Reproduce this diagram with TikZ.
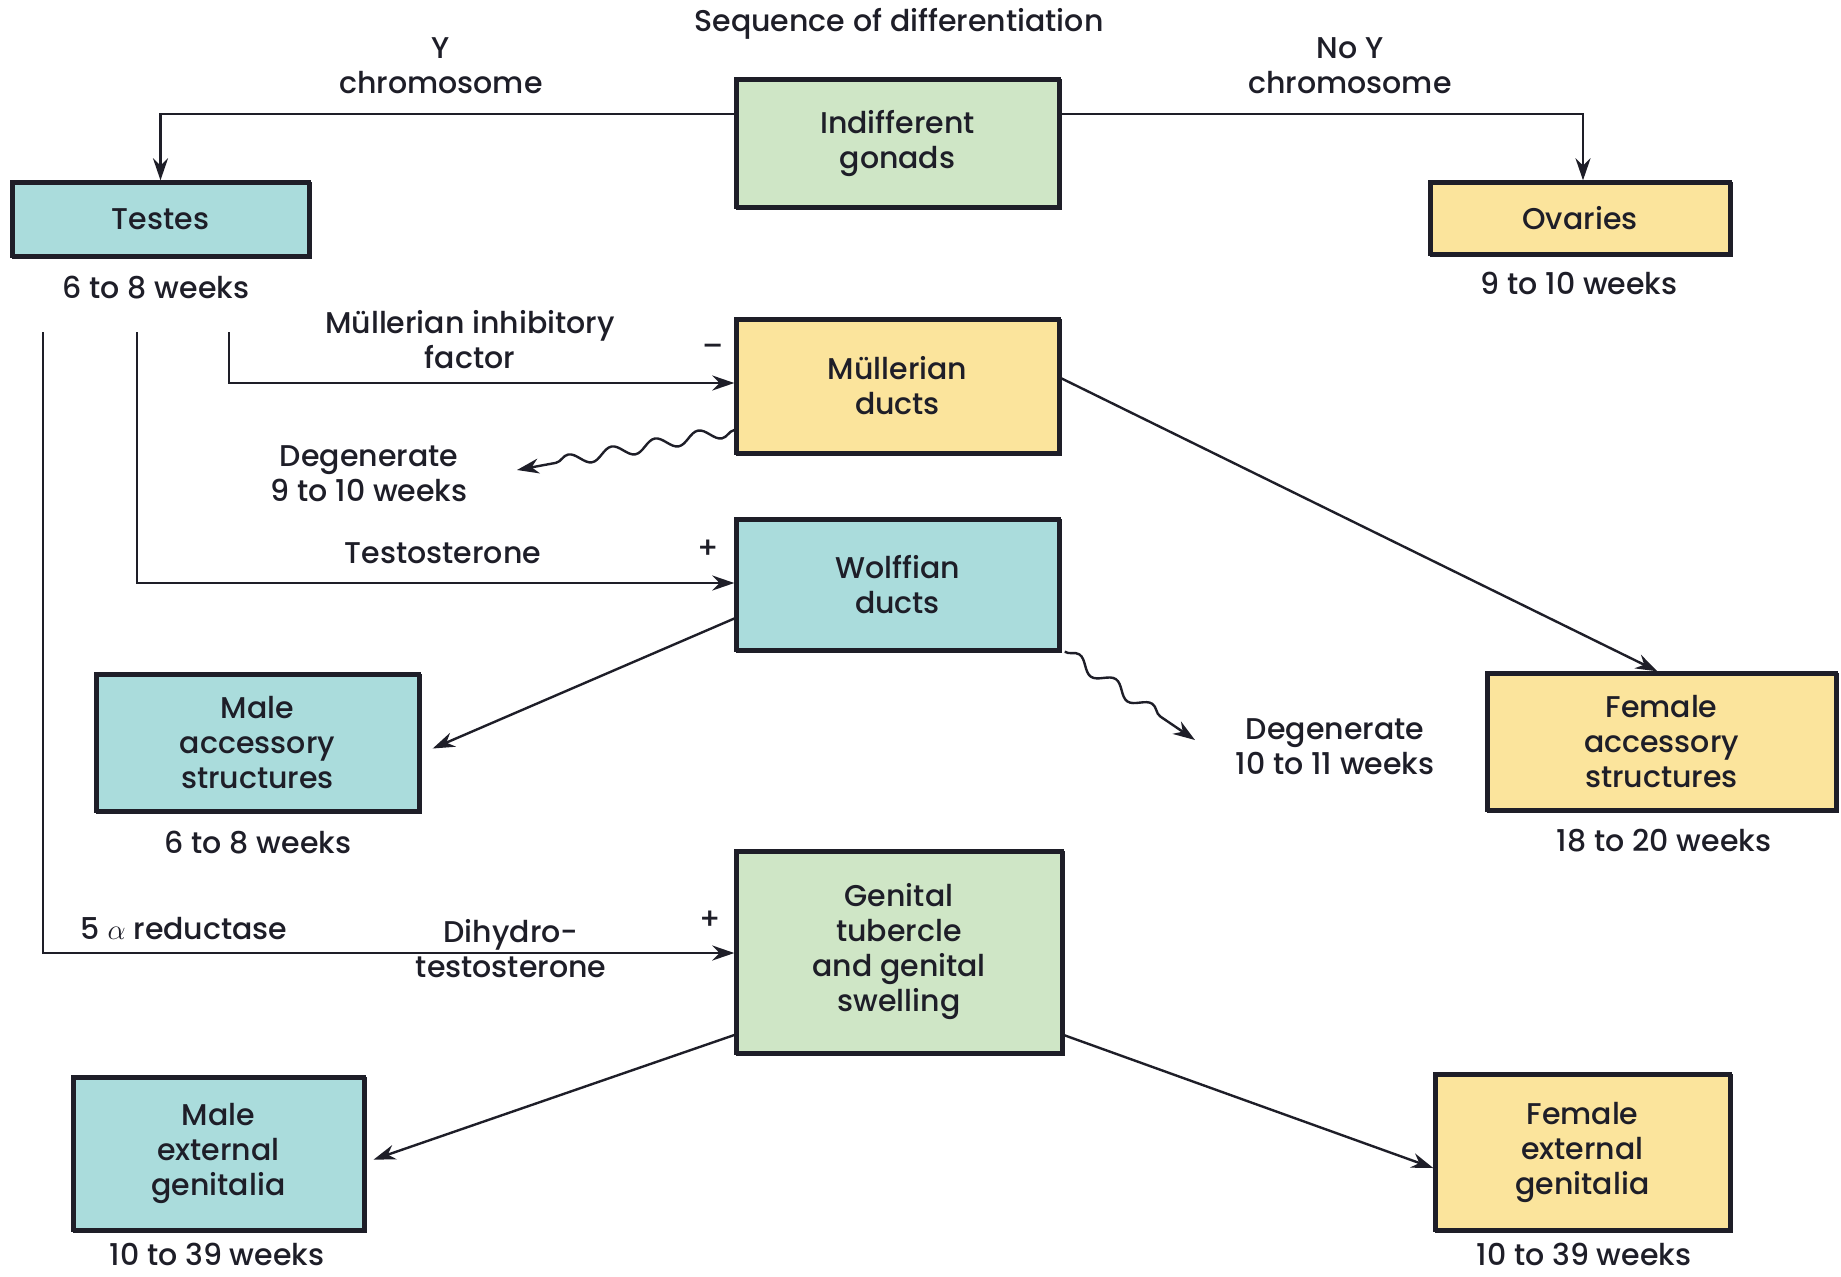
\documentclass[tikz,border=0pt]{standalone}
\usepackage{fontspec}
\setmainfont{Poppins}[UprightFont=* Medium]
\usetikzlibrary{arrows.meta,decorations.pathmorphing}
\definecolor{cteal}{HTML}{AADCDC}
\definecolor{cyel}{HTML}{FBE49C}
\definecolor{cgrn}{HTML}{CFE6C6}
\definecolor{cink}{HTML}{1E1E28}
\tikzset{
  bx/.style={draw=cink, line width=1.7pt, align=center, inner sep=0pt,
    font=\fontsize{15}{17.5}\selectfont, text=cink,
    postaction={draw=cink, line width=1.3pt, transform canvas={xshift=0.7pt,yshift=-0.7pt}}},
  lbl/.style={align=center, inner sep=0pt, font=\fontsize{15}{17.5}\selectfont, text=cink},
  conn/.style={draw=cink, line width=1.2pt},
  arr/.style={conn, -{Stealth[length=11pt,width=7.5pt]}},
  wav/.style={arr, decorate, decoration={snake, amplitude=3pt, segment length=22pt, post length=12pt}},
}
\begin{document}
\begin{tikzpicture}[x=0.5pt,y=-0.5pt]
\useasboundingbox[fill=white] (0,0) rectangle (1841,1276);
% boxes
\node[bx, fill=cgrn, minimum width=161.5pt, minimum height=64pt] (gon) at (897.5,143) {Indifferent\\gonads};
\node[bx, fill=cteal, minimum width=148.5pt, minimum height=37pt] (tes) at (160.5,219) {Testes};
\node[bx, fill=cyel, minimum width=150pt, minimum height=36pt] (ova) at (1580,218) {Ovaries};
\node[bx, fill=cyel, minimum width=161.5pt, minimum height=67pt] (mul) at (897.5,386) {Müllerian\\ducts};
\node[bx, fill=cteal, minimum width=161.5pt, minimum height=65.5pt] (wol) at (897.5,584.5) {Wolffian\\ducts};
\node[bx, fill=cteal, minimum width=161.5pt, minimum height=68.5pt] (macc) at (257.5,742.5) {Male\\accessory\\structures};
\node[bx, fill=cyel, minimum width=174.5pt, minimum height=68.5pt] (facc) at (1661.5,741.5) {Female\\accessory\\structures};
\node[bx, fill=cgrn, minimum width=163pt, minimum height=101pt] (gen) at (899,952) {Genital\\tubercle\\and genital\\swelling};
\node[bx, fill=cteal, minimum width=145.5pt, minimum height=76.5pt] (mext) at (218.5,1153.5) {Male\\external\\genitalia};
\node[bx, fill=cyel, minimum width=147.5pt, minimum height=78pt] (fext) at (1582.5,1152) {Female\\external\\genitalia};
% labels
\node[lbl] (title) at (899,24) {Sequence of differentiation};
\node[lbl] (ylab) at (441,66) {Y\\chromosome};
\node[lbl] (noylab) at (1350,66) {No Y\\chromosome};
\node[lbl] (tesw) at (156,288) {6 to 8 weeks};
\node[lbl] (ovaw) at (1579,283) {9 to 10 weeks};
\node[lbl] (mif) at (470,340) {Müllerian inhibitory\\factor};
\node[lbl] (minus) at (713,350) {\textendash};
\node[lbl] (deg1) at (369,474) {Degenerate\\9 to 10 weeks};
\node[lbl] (testo) at (443,553) {Testosterone};
\node[lbl] (plus1) at (708,549) {+};
\node[lbl] (maccw) at (258,843) {6 to 8 weeks};
\node[lbl] (deg2) at (1335,747) {Degenerate\\10 to 11 weeks};
\node[lbl] (faccw) at (1664,841) {18 to 20 weeks};
\node[lbl] (red) at (184,929) {5 $\alpha$ reductase};
\node[lbl] (dht) at (511,949) {Dihydro-\\testosterone};
\node[lbl] (plus2) at (710,920) {+};
\node[lbl] (mextw) at (217,1254) {10 to 39 weeks};
\node[lbl] (fextw) at (1584,1254) {10 to 39 weeks};
% free ends
\coordinate (s1) at (229,332);
\coordinate (s2) at (137,332);
\coordinate (s3) at (43,332);
\coordinate (d1) at (517,470);
\coordinate (d2) at (1195,740);
% connectors
\draw[arr] ([yshift=14.5pt]gon.west) -| (tes.north);
\draw[arr] ([yshift=14.5pt]gon.east) -| ([xshift=1.5pt]ova.north);
\draw[arr] (s1) |- ([yshift=1.5pt]mul.west);
\draw[arr] (s2) |- ([yshift=0.75pt]wol.west);
\draw[arr] (s3) |- ([yshift=-0.5pt]gen.west);
\draw[wav] ([yshift=-22pt]mul.west) -- (d1);
\draw[arr] ([yshift=-17pt]wol.west) -- ([xshift=6pt,yshift=-3pt]macc.east);
\draw[wav] ([xshift=2pt]wol.south east) -- (d2);
\draw[arr] ([yshift=4pt]mul.east) -- ([xshift=-2pt]facc.north);
\draw[arr] ([yshift=-41.5pt]gen.west) -- ([xshift=4pt,yshift=-3pt]mext.east);
\draw[arr] ([yshift=-41.5pt]gen.east) -- ([yshift=-8pt]fext.west);
\end{tikzpicture}
\end{document}
